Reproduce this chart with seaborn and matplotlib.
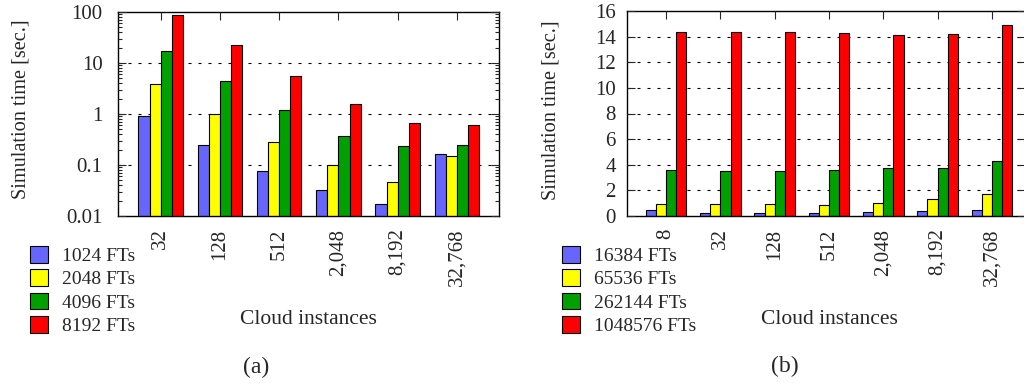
import pandas as pd
import numpy as np
import matplotlib
matplotlib.use('Agg')
import matplotlib.pyplot as plt
import seaborn as sns

# data
inst_a = ['32', '128', '512', '2,048', '8,192', '32,768']
series_a = ['1024 FTs', '2048 FTs', '4096 FTs', '8192 FTs']
vals_a_1024 = [0.93, 0.245, 0.075, 0.032, 0.017, 0.167]
vals_a_2048 = [3.8, 1.0, 0.28, 0.10, 0.047, 0.15]
vals_a_4096 = [17.0, 4.4, 1.2, 0.376, 0.236, 0.245]
vals_a_8192 = [88.0, 22.5, 5.6, 1.57, 0.68, 0.61]

inst_b = ['8', '32', '128', '512', '2,048', '8,192', '32,768']
series_b = ['16384 FTs', '65536 FTs', '262144 FTs', '1048576 FTs']
vals_b_16384 = [0.44, 0.23, 0.23, 0.23, 0.31, 0.37, 0.44]
vals_b_65536 = [0.91, 0.91, 0.91, 0.86, 1.01, 1.35, 1.72]
vals_b_262144 = [3.57, 3.51, 3.54, 3.57, 3.75, 3.75, 4.27]
vals_b_1048576 = [14.36, 14.34, 14.36, 14.26, 14.1, 14.23, 14.88]

ylog_ticks = [0.01, 0.1, 1, 10, 100]
ylog_labels = ['0.01', '0.1', '1', '10', '100']
ylin_ticks = [0, 2, 4, 6, 8, 10, 12, 14, 16]

colors = ['#6666ff', '#ffff00', '#00a000', '#ff0000']


def to_long(inst, series, cols):
    rows = []
    for s, vals in zip(series, cols):
        for i, v in zip(inst, vals):
            rows.append({'inst': i, 'series': s, 'time': v})
    return pd.DataFrame(rows)


df_a = to_long(inst_a, series_a, [vals_a_1024, vals_a_2048, vals_a_4096, vals_a_8192])
df_b = to_long(inst_b, series_b, [vals_b_16384, vals_b_65536, vals_b_262144, vals_b_1048576])

sns.set_style('white')
plt.rcParams['font.family'] = ['Liberation Serif', 'DejaVu Serif']

W, H = 1024, 383
fig = plt.figure(figsize=(W / 100, H / 100), dpi=100)


def px(x0, y0, x1, y1):
    return [x0 / W, 1 - y1 / H, (x1 - x0) / W, (y1 - y0) / H]


ax_a = fig.add_axes(px(118, 12, 499, 216))
ax_b = fig.add_axes(px(627, 11, 1025, 216))

grid_kw = dict(color='black', lw=0.8, linestyle=(0, (2.7, 6.3)), zorder=0.5)
tick_fs = 15
lab_fs = 15.5

# (a) log scale
ax_a.set_yscale('log')
sns.barplot(data=df_a, x='inst', y='time', hue='series', order=inst_a,
            hue_order=series_a, palette=colors, width=0.75, gap=0,
            edgecolor='black', linewidth=0.8, saturation=1, ax=ax_a, zorder=2)
ax_a.set_ylim(0.01, 100)
ax_a.set_xlim(-0.72, 5.71)
ax_a.set_yticks(ylog_ticks)
ax_a.set_yticklabels(ylog_labels)
for t in ylog_ticks[1:-1]:
    ax_a.axhline(t, **grid_kw)

# (b) linear scale
sns.barplot(data=df_b, x='inst', y='time', hue='series', order=inst_b,
            hue_order=series_b, palette=colors, width=0.75, gap=0,
            edgecolor='black', linewidth=0.8, saturation=1, ax=ax_b, zorder=2)
ax_b.set_ylim(0, 16)
ax_b.set_xlim(-0.72, 6.61)
ax_b.set_yticks(ylin_ticks)
for t in ylin_ticks[1:-1]:
    ax_b.axhline(t, **grid_kw)

for ax, ypad, labels_x, lab_x in [(ax_a, 11, inst_a, 308), (ax_b, 8, inst_b, 829)]:
    ax.set_xlabel('')
    ax.set_ylabel('')
    ax.get_legend().remove()
    for sp in ax.spines.values():
        sp.set_visible(True)
        sp.set_color('black')
        sp.set_linewidth(1.0)
    ax.tick_params(axis='y', which='major', direction='in', length=6, width=0.8,
                   left=True, right=True, pad=ypad, labelsize=tick_fs)
    ax.tick_params(axis='y', which='minor', direction='in', length=3, width=0.8,
                   left=True, right=True)
    ax.tick_params(axis='x', which='major', direction='in', length=6, width=0.8,
                   top=True, bottom=False, pad=9, labelsize=tick_fs)
    ax.set_xticks(range(len(labels_x)))
    ax.set_xticklabels(labels_x, rotation=90, va='top')
    ax.set_axisbelow(False)
    fig.text(lab_x / W, 1 - 320 / H, 'Cloud instances', ha='center', va='center', fontsize=lab_fs)

fig.text(21 / W, 1 - 109 / H, 'Simulation time [sec.]', rotation=90,
         ha='center', va='center', fontsize=14.6)
fig.text(551 / W, 1 - 110 / H, 'Simulation time [sec.]', rotation=90,
         ha='center', va='center', fontsize=14.6)

# legends below the y labels
for series, lx in [(series_a, 30), (series_b, 562)]:
    h = [plt.Rectangle((0, 0), 1, 1, facecolor=c, edgecolor='black', lw=0.8) for c in colors]
    fig.legend(h, series, loc='upper left', bbox_to_anchor=(lx / W, 1 - 246 / H),
               frameon=False, fontsize=14, borderpad=0, borderaxespad=0,
               handlelength=0.95, handleheight=0.95, handletextpad=0.72,
               labelspacing=0.22)

fig.text(256 / W, 1 - 367 / H, '(a)', ha='center', va='center', fontsize=17)
fig.text(785 / W, 1 - 366 / H, '(b)', ha='center', va='center', fontsize=17)

fig.savefig('out.png', dpi=100)
